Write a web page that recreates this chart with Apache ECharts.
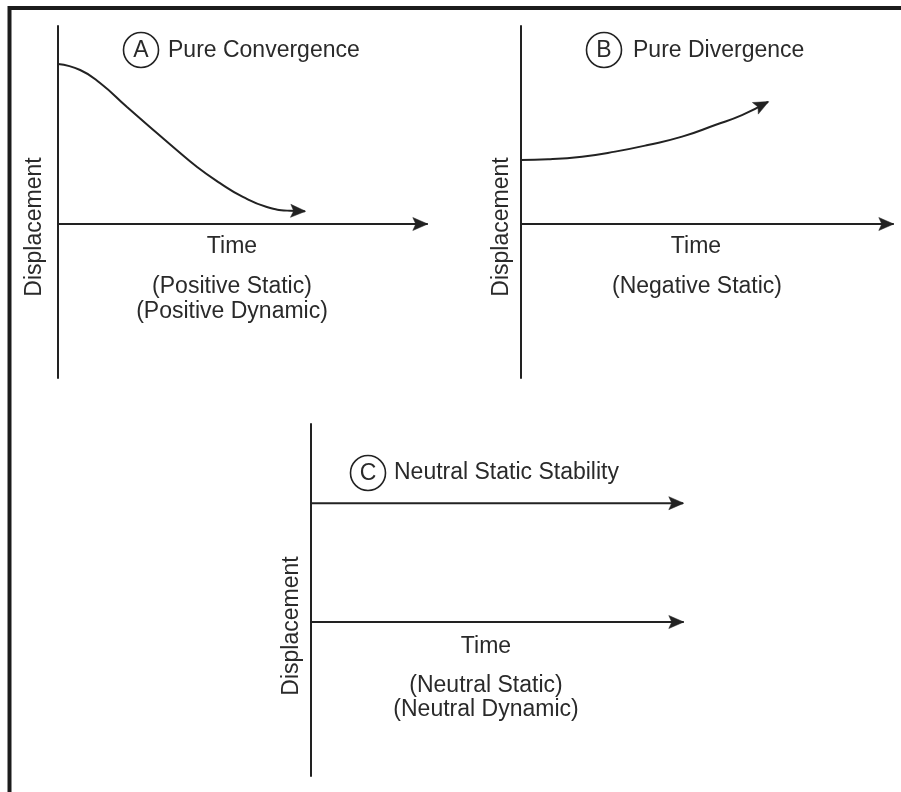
<!DOCTYPE html>
<html><head><meta charset="utf-8">
<script src="https://cdn.jsdelivr.net/npm/echarts@6/dist/echarts.min.js"></script>
<style>html,body{margin:0;padding:0;background:#fff}#c{width:901px;height:792px}</style>
</head><body><div id="c"></div>
<script>
// ---- data ----
const panelLetters = ['A', 'B', 'C'];
const panelTitles = ['Pure Convergence', 'Pure Divergence', 'Neutral Static Stability'];
const timeLabel = 'Time';
const dispLabel = 'Displacement';
const notesA = ['(Positive Static)', '(Positive Dynamic)'];
const notesB = ['(Negative Static)'];
const notesC = ['(Neutral Static)', '(Neutral Dynamic)'];

// Panel A: pure convergence (time, displacement)
const timeA = [0, 0.6, 1.14, 1.87, 2.49, 3.12, 3.77, 4.39, 5.01, 5.66, 6.29, 6.69];
const dispA = [7.27, 7.0, 6.41, 5.32, 4.41, 3.5, 2.59, 1.86, 1.23, 0.77, 0.6, 0.58];
// Panel B: pure divergence
const timeB = [0, 0.73, 1.64, 2.53, 3.41, 4.33, 5.22, 5.94, 6.64];
const dispB = [2.91, 2.94, 3.06, 3.29, 3.59, 3.97, 4.5, 4.95, 5.55];
// Panel C: neutral (constant displacement)
const timeC = [0, 10];
const dispC = [5.4, 5.4];

// axis ranges
const timeRange = [0, 10];
const dispRange = [-7, 9];

// ---- styles ----
const INK = '#222';
const TXT = '#2a2a2a';
const FONT = 'Liberation Sans, Arial, sans-serif';
const FS = 23;

const grids = [
  {left: 58, top: 26, width: 369, height: 352},
  {left: 521, top: 26, width: 372, height: 352},
  {left: 311, top: 424, width: 372, height: 352}
];

const zip = (a, b) => a.map((v, i) => [v, b[i]]);
const curves = [zip(timeA, dispA), zip(timeB, dispB), zip(timeC, dispC)];

const xAxes = grids.map((g, i) => ({
  type: 'value', gridIndex: i, min: timeRange[0], max: timeRange[1],
  axisLine: {show: true, onZero: true, lineStyle: {color: INK, width: 2}},
  axisTick: {show: false}, axisLabel: {show: false}, splitLine: {show: false}
}));
const yAxes = grids.map((g, i) => ({
  type: 'value', gridIndex: i, min: dispRange[0], max: dispRange[1],
  axisLine: {show: true, onZero: true, lineStyle: {color: INK, width: 2}},
  axisTick: {show: false}, axisLabel: {show: false}, splitLine: {show: false}
}));

// arrowhead drawn with its tip exactly on [x, y], pointing away from [px, py]
function arrowItem(params, api) {
  const tip = api.coord([api.value(0), api.value(1)]);
  const prev = api.coord([api.value(2), api.value(3)]);
  let ux = tip[0] - prev[0], uy = tip[1] - prev[1];
  const len = Math.hypot(ux, uy) || 1;
  ux /= len; uy /= len;
  const nx = -uy, ny = ux;
  const L = 15, HW = 6.5, NOTCH = 3;
  const t = [tip[0] + ux * 0.8, tip[1] + uy * 0.8];
  return {
    type: 'polygon',
    shape: {points: [
      t,
      [t[0] - ux * L + nx * HW, t[1] - uy * L + ny * HW],
      [t[0] - ux * (L - NOTCH), t[1] - uy * (L - NOTCH)],
      [t[0] - ux * L - nx * HW, t[1] - uy * L - ny * HW]
    ]},
    style: {fill: INK, stroke: INK, lineWidth: 0.5}
  };
}

const series = [];
curves.forEach((c, i) => {
  series.push({
    type: 'line', xAxisIndex: i, yAxisIndex: i, data: c, smooth: c.length > 2 ? 0.5 : false,
    symbol: 'none', lineStyle: {color: INK, width: 2}, silent: true, z: 3
  });
  const last = c[c.length - 1], prev = c[c.length - 2];
  series.push({
    type: 'custom', xAxisIndex: i, yAxisIndex: i, silent: true, z: 4,
    renderItem: arrowItem,
    data: [
      [last[0], last[1], prev[0], prev[1]],
      [timeRange[1], 0, timeRange[1] - 1, 0]
    ]
  });
});

function txt(text, x, y, align, rot) {
  return {type: 'text', x: x, y: y, rotation: rot || 0, silent: true,
    style: {text: text, fontSize: FS, fontFamily: FONT, fill: TXT,
      align: align || 'center', verticalAlign: 'middle'}};
}
function circ(cx, cy) {
  return {type: 'circle', silent: true, shape: {cx: cx, cy: cy, r: 17.5},
    style: {fill: 'none', stroke: INK, lineWidth: 1.6}};
}

const graphic = [
  {type: 'polyline', silent: true, shape: {points: [[9.5, 800], [9.5, 8], [910, 8]]},
    style: {stroke: '#1c1c1c', lineWidth: 4, fill: 'none', lineJoin: 'miter'}},
  // Panel A
  circ(141, 50), txt(panelLetters[0], 141, 51),
  txt(panelTitles[0], 168, 51, 'left'),
  txt(timeLabel, 232, 247),
  txt(notesA[0], 232, 287), txt(notesA[1], 232, 312),
  txt(dispLabel, 35, 227, 'center', Math.PI / 2),
  // Panel B
  circ(604, 50), txt(panelLetters[1], 604, 51),
  txt(panelTitles[1], 633, 51, 'left'),
  txt(timeLabel, 696, 247),
  txt(notesB[0], 697, 287),
  txt(dispLabel, 502, 227, 'center', Math.PI / 2),
  // Panel C
  circ(368, 473), txt(panelLetters[2], 368, 474),
  txt(panelTitles[2], 394, 473, 'left'),
  txt(timeLabel, 486, 647),
  txt(notesC[0], 486, 686), txt(notesC[1], 486, 710),
  txt(dispLabel, 292, 626, 'center', Math.PI / 2)
];

const chart = echarts.init(document.getElementById('c'), null, {renderer: 'canvas'});
chart.setOption({
  animation: false,
  backgroundColor: '#fff',
  grid: grids.map(g => Object.assign({outerBoundsMode: 'none', containLabel: false}, g)),
  xAxis: xAxes, yAxis: yAxes, series: series, graphic: graphic
});
</script>
</body></html>
